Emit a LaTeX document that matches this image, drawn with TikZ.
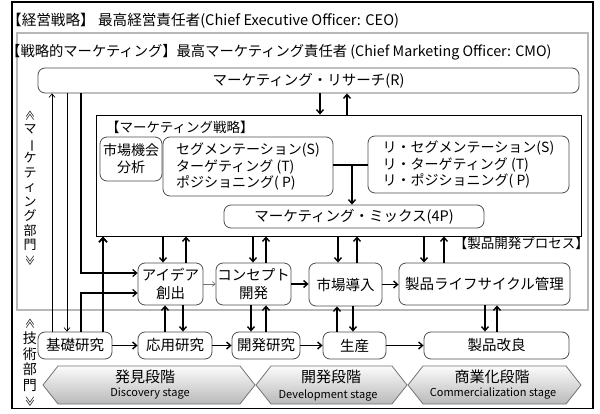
\documentclass[tikz,border=0pt]{standalone}
\usepackage{fontspec}
\setmainfont{Noto Sans CJK JP}
\usepackage{graphicx}
\usetikzlibrary{arrows.meta,calc}
\newcommand{\vrot}[1]{\rotatebox[origin=c]{-90}{#1}}
\newcommand{\vmark}[1]{{\fontsize{10.5}{11}\selectfont\rotatebox[origin=c]{-90}{#1}}}
\begin{document}
\begin{tikzpicture}[x=1pt,y=-1pt,
  box/.style={draw=black!70, rounded corners=7pt, line width=0.8pt, inner sep=0pt, align=center, font=\fontsize{14.5}{18}\selectfont},
  arr/.style={-{Straight Barb[length=4pt,width=7pt]}, line width=1.4pt},
  medarr/.style={-{Straight Barb[length=4pt,width=7pt]}, line width=1.2pt},
  thickarr/.style={-{Straight Barb[length=4.5pt,width=8pt]}, line width=1.8pt},
  thinarr/.style={-{Straight Barb[length=3.5pt,width=6pt]}, line width=0.7pt},
  grayarr/.style={-{Straight Barb[length=3pt,width=5pt]}, line width=0.6pt, draw=black!55},
  stage/.style={draw=black!55, line width=0.8pt, top color=gray!3, bottom color=gray!55},
  title/.style={anchor=west, inner sep=0pt, font=\fontsize{14}{16}\selectfont},
  vlabel/.style={align=center, inner sep=0pt},
  jstage/.style={inner sep=0pt, font=\fontsize{15}{17}\selectfont},
  estage/.style={inner sep=0pt, font=\fontsize{11}{13}\selectfont},
]
\useasboundingbox (0,0) rectangle (600,414);

% frames
\draw[line width=1.6pt] (12,2) rectangle (593,408.5);
\draw[black!28, line width=1.2pt] (17,33) rectangle (588,310);

% titles
\node[title, font=\fontsize{14.6}{16}\selectfont] (ceo) at (7,21) {【経営戦略】 最高経営責任者(Chief Executive Officer: CEO)};
\node[title, font=\fontsize{14.3}{16}\selectfont] (cmo) at (6,52) {【戦略的マーケティング】最高マーケティング責任者 (Chief Marketing Officer: CMO)};

% research
\node[box, minimum width=541pt, minimum height=25pt] (res) at (308.5,80.5) {マーケティング・リサーチ(R)};

% marketing strategy
\node[draw, line width=0.8pt, minimum width=485pt, minimum height=121pt, inner sep=0pt] (ms) at (338.5,175.5) {};
\node[title, font=\fontsize{13.5}{16}\selectfont] (mslabel) at (106,127) {【マーケティング戦略】};
\node[box, minimum width=62pt, minimum height=44pt, font=\fontsize{14}{17}\selectfont] (opp) at (131,159) {市場機会\\分析};
\node[box, minimum width=170pt, minimum height=59pt, align=left, font=\fontsize{14}{16.5}\selectfont] (stp) at (248,166.5) {セグメンテーション(S)\\ターゲティング (T)\\ポジショニング( P)};
\node[box, minimum width=201pt, minimum height=57pt, align=left, font=\fontsize{14}{16.5}\selectfont] (restp) at (468.5,164.5) {リ・セグメンテーション(S)\\リ・ターゲティング (T)\\リ・ポジショニング( P)};
\node[box, minimum width=260pt, minimum height=23pt] (mix) at (354,216.5) {マーケティング・ミックス(4P)};
\coordinate (j) at (352,165);
\draw[line width=1.4pt] (stp.east |- j) -- (restp.west |- j);
\draw[arr] (j) -- (j |- mix.north);

% product dev process label
\node[anchor=east, inner sep=0pt, font=\fontsize{13.5}{16}\selectfont] (pdp) at (589,243) {【製品開発プロセス】};

% upper row
\node[box, minimum width=65pt, minimum height=42pt] (idea) at (170.5,284) {アイデア\\創出};
\node[box, minimum width=75pt, minimum height=42pt] (concept) at (253.5,284) {コンセプト\\開発};
\node[box, minimum width=73pt, minimum height=43pt] (intro) at (345.5,284.5) {市場導入};
\node[box, minimum width=171pt, minimum height=42pt] (plc) at (484.5,284) {製品ライフサイクル管理};

% lower row
\node[box, minimum width=74pt, minimum height=27pt] (kiso) at (75,345.5) {基礎研究};
\node[box, minimum width=74pt, minimum height=27pt] (oyo) at (175,345.5) {応用研究};
\node[box, minimum width=68pt, minimum height=27pt] (kaihatsu) at (266,345.5) {開発研究};
\node[box, minimum width=63pt, minimum height=27pt] (seisan) at (354.5,345.5) {生産};
\node[box, minimum width=145pt, minimum height=27pt] (kairyo) at (496.5,345.5) {製品改良};

% research <-> marketing strategy
\draw[arr] (320,0 |- res.south) -- (320,0 |- ms.north);
\draw[arr] (347,0 |- ms.north) -- (347,0 |- res.south);

% left vertical lines
\draw[thinarr] (52,0 |- kiso.north) -- (52,0 |- res.south);
\draw[thinarr] (67,0 |- res.south) -- (67,0 |- kiso.north);
\draw[medarr] (81,0 |- res.south) -- (81,273) -- (idea.west |- 0,273);
\draw[medarr] (81,0 |- kiso.north) -- (81,293) -- (idea.west |- 0,293);
\draw[thickarr] (103,0 |- kiso.north) -- (103,0 |- ms.south);

% marketing strategy <-> upper row
\draw[arr] (163,0 |- ms.south) -- (163,0 |- idea.north);
\draw[arr] (186,0 |- idea.north) -- (186,0 |- ms.south);
\draw[arr] (253,0 |- ms.south) -- (253,0 |- concept.north);
\draw[arr] (266,0 |- concept.north) -- (266,0 |- ms.south);
\draw[arr] (338,0 |- ms.south) -- (338,0 |- intro.north);
\draw[arr] (357,0 |- intro.north) -- (357,0 |- ms.south);
\draw[arr] (424,0 |- ms.south) -- (424,0 |- plc.north);
\draw[arr] (444,0 |- plc.north) -- (444,0 |- ms.south);

% upper row horizontal
\draw[grayarr] (idea.east) -- (concept.west);
\draw[arr] (concept.east) -- (intro.west |- concept.east);
\draw[arr] (intro.east) -- (plc.west |- intro.east);

% upper <-> lower
\draw[arr] (165,0 |- oyo.north) -- (165,0 |- idea.south);
\draw[arr] (183,0 |- idea.south) -- (183,0 |- oyo.north);
\draw[arr] (251,0 |- concept.south) -- (251,0 |- kaihatsu.north);
\draw[arr] (266,0 |- kaihatsu.north) -- (266,0 |- concept.south);
\draw[arr] (337,0 |- seisan.north) -- (337,0 |- intro.south);
\draw[arr] (353,0 |- intro.south) -- (353,0 |- seisan.north);
\draw[arr] (485,0 |- plc.south) -- (485,0 |- kairyo.north);
\draw[arr] (497,0 |- kairyo.north) -- (497,0 |- plc.south);

% lower row horizontal
\draw[arr] (kiso.east) -- (oyo.west);
\draw[arr] (oyo.east) -- (kaihatsu.west);
\draw[arr] (kaihatsu.east) -- (seisan.west);
\draw[arr] (seisan.east) -- (kairyo.west);

% vertical department labels
\node[vlabel, font=\fontsize{13}{14.5}\selectfont] (mktdept) at (30,188) {\vmark{≪}\\マ\\\vrot{ー}\\ケ\\テ\\ィ\\ン\\グ\\部\\門\\\vmark{≫}};
\node[vlabel, font=\fontsize{14}{15.6}\selectfont] (techdept) at (30,363) {\vmark{≪}\\技\\術\\部\\門\\\vmark{≫}};

% stages
\path[stage] (43,385) -- (58,366) -- (240,366) -- (255,385) -- (240,404) -- (58,404) -- cycle;
\path[stage] (256,385) -- (271,366) -- (392,366) -- (407,385) -- (392,404) -- (271,404) -- cycle;
\path[stage] (408,385) -- (423,366) -- (566,366) -- (581,385) -- (566,404) -- (423,404) -- cycle;
\node[jstage] (s1j) at (145,377) {発見段階};
\node[estage] (s1e) at (150,393.5) {Discovery stage};
\node[jstage] (s2j) at (331,377) {開発段階};
\node[estage] (s2e) at (328,395) {Development stage};
\node[jstage] (s3j) at (492,377) {商業化段階};
\node[estage] (s3e) at (493,393.5) {Commercialization stage};
\end{tikzpicture}
\end{document}
